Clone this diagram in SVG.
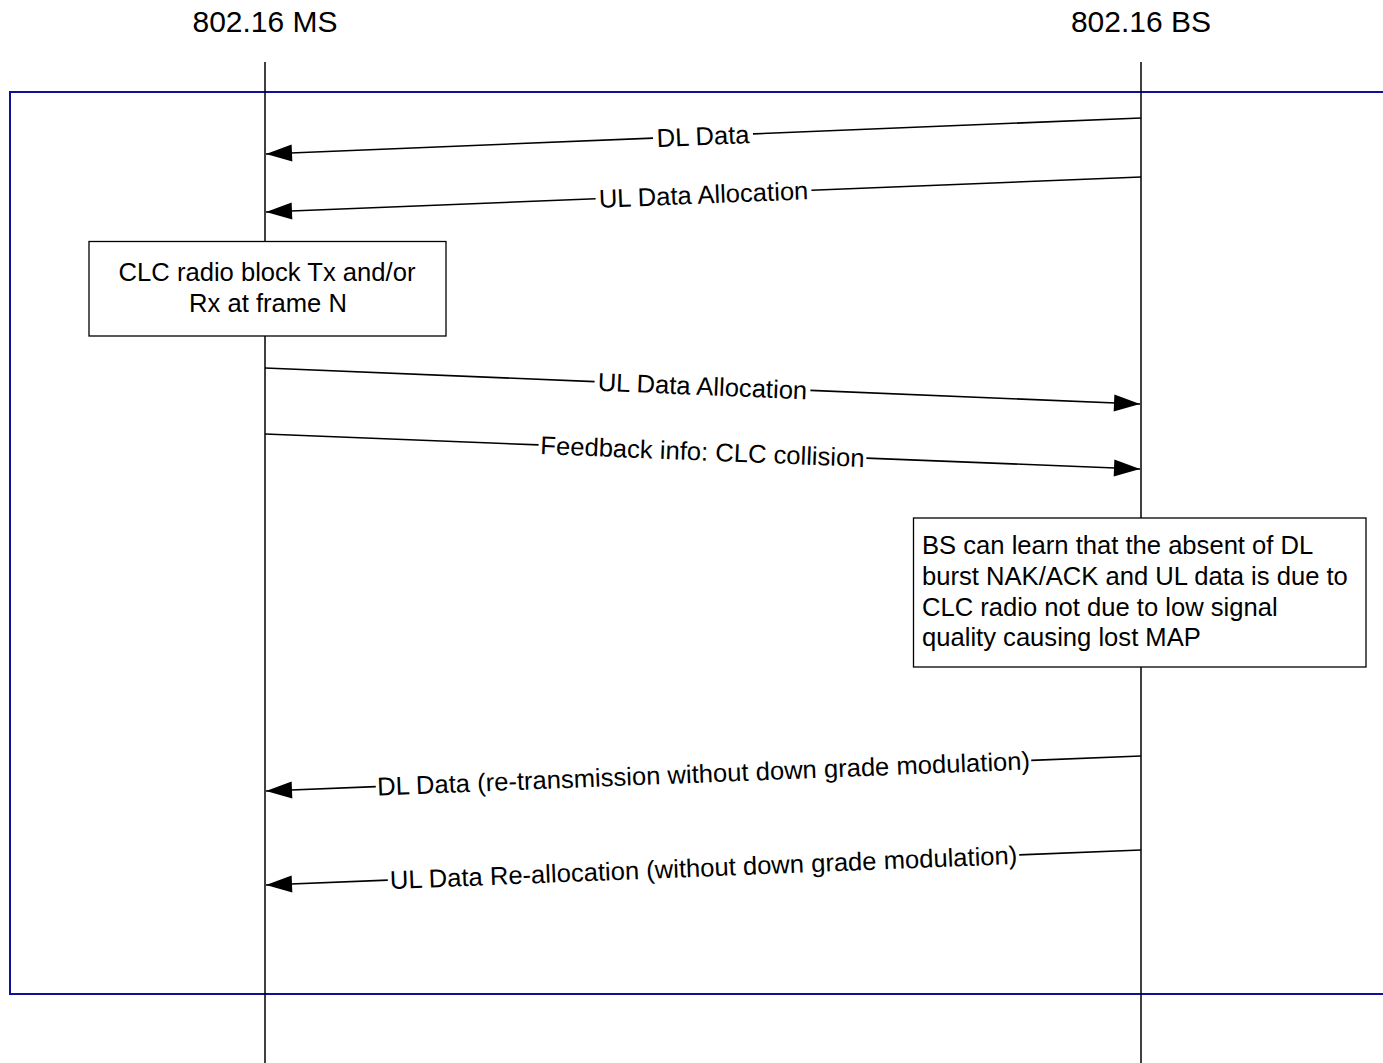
<svg xmlns="http://www.w3.org/2000/svg" width="1383" height="1063" viewBox="0 0 1383 1063">
<style>
text{font-family:"Liberation Sans",Arial,sans-serif;fill:#000}
.t{font-size:30px;text-anchor:middle}
.b{font-size:25.6px}
.lbl{font-size:25.6px;text-anchor:middle}
.life{stroke:#000;stroke-width:1.5;fill:none}
.frame{stroke:#10109a;stroke-width:2;fill:none}
.box{fill:#fff;stroke:#000;stroke-width:1.3}
.msg{stroke:#000;stroke-width:1.6;fill:none}
</style>
<defs>
<marker id="ah" markerUnits="userSpaceOnUse" markerWidth="26" markerHeight="18" refX="26" refY="8.5" orient="auto" overflow="visible">
<path d="M0,0 L26,8.5 L0,17 Z" fill="#000"/>
</marker>
</defs>
<rect width="1383" height="1063" fill="#fff"/>
<path class="frame" d="M1383,92 H10 V994 H1383"/>
<g id="ms">
<line class="life" x1="265" y1="62" x2="265" y2="1063"/>
<text class="t" x="265" y="32">802.16 MS</text>
</g>
<g id="bs">
<line class="life" x1="1141" y1="62" x2="1141" y2="1063"/>
<text class="t" x="1141" y="32">802.16 BS</text>
</g>
<g id="connectors">
<line class="msg" x1="1141" y1="118" x2="753" y2="133.9"/>
<line class="msg" x1="653" y1="138.1" x2="266" y2="154" marker-end="url(#ah)"/>
<text class="lbl" transform="translate(703,136) rotate(-2.353)" y="9">DL Data</text>
<line class="msg" x1="1141" y1="177" x2="811.4" y2="190.2"/>
<line class="msg" x1="595.6" y1="198.8" x2="266" y2="212" marker-end="url(#ah)"/>
<text class="lbl" transform="translate(703.5,194.5) rotate(-2.29)" y="9">UL Data Allocation</text>
<line class="msg" x1="265" y1="368" x2="594.6" y2="381.6"/>
<line class="msg" x1="810.4" y1="390.4" x2="1140" y2="404" marker-end="url(#ah)"/>
<text class="lbl" transform="translate(702.5,386) rotate(2.356)" y="9">UL Data Allocation</text>
<line class="msg" x1="265" y1="434" x2="538.6" y2="444.9"/>
<line class="msg" x1="866.4" y1="458.1" x2="1140" y2="469" marker-end="url(#ah)"/>
<text class="lbl" transform="translate(702.5,451.5) rotate(2.29)" y="9">Feedback info: CLC collision</text>
<line class="msg" x1="1141" y1="756" x2="1031.2" y2="760.4"/>
<line class="msg" x1="375.8" y1="786.6" x2="266" y2="791" marker-end="url(#ah)"/>
<text class="lbl" transform="translate(703.5,773.5) rotate(-2.29)" y="9">DL Data (re-transmission without down grade modulation)</text>
<line class="msg" x1="1141" y1="850" x2="1019.2" y2="854.9"/>
<line class="msg" x1="387.8" y1="880.1" x2="266" y2="885" marker-end="url(#ah)"/>
<text class="lbl" transform="translate(703.5,867.5) rotate(-2.29)" y="9">UL Data Re-allocation (without down grade modulation)</text>
</g>
<g id="clc-box">
<rect class="box" x="89" y="241.5" width="357" height="94.5"/>
<text class="b" text-anchor="middle" x="267" y="281">CLC radio block Tx and/or</text>
<text class="b" text-anchor="middle" x="268" y="312">Rx at frame N</text>
</g>
<g id="bs-box">
<rect class="box" x="913.5" y="518" width="452.5" height="149"/>
<text class="b" x="922" y="554">BS can learn that the absent of DL</text>
<text class="b" x="922" y="585">burst NAK/ACK and UL data is due to</text>
<text class="b" x="922" y="616">CLC radio not due to low signal</text>
<text class="b" x="922" y="646">quality causing lost MAP</text>
</g>
</svg>
